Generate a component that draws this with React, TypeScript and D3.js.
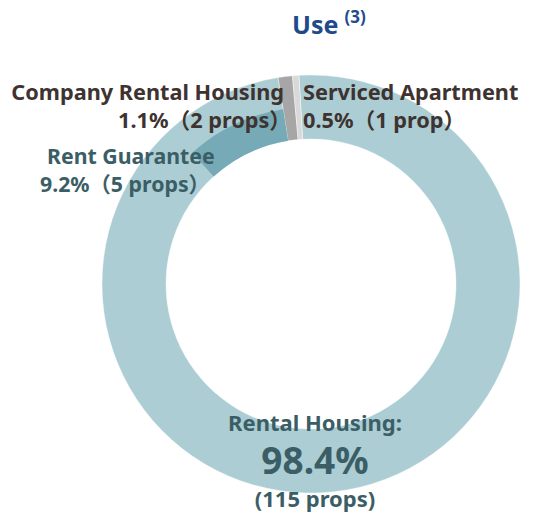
import React from "react";
import * as d3 from "d3";

// segments of the ring, clockwise
const useNames = ["Rental Housing", "Company Rental Housing", "Serviced Apartment"];
const useShares = [98.4, 1.1, 0.5];
const useProps = [115, 2, 1];
const useColors = ["#abcdd3", "#a6a6a6", "#d9d9d9"];

// rent guarantee is a part of rental housing, drawn as an inner band
const guaranteeName = "Rent Guarantee";
const guaranteeShare = 9.2;
const guaranteeProps = 5;

const width = 544;
const height = 514;
const cx = 311;
const cy = 284;
const outerR = 209;
const innerR = 145;
const bandR = 177;
const startDeg = -3.3;

const font = "'Noto Sans', 'Noto Sans CJK JP', sans-serif";
const brown = "#3e3330";
const teal = "#3b5e66";

export default function App() {
  const start = (startDeg * Math.PI) / 180;
  const pie = d3
    .pie<number>()
    .sort(null)
    .startAngle(start)
    .endAngle(start + 2 * Math.PI);
  const slices = pie(useShares);

  const arc = d3.arc<d3.PieArcDatum<number>>().innerRadius(innerR).outerRadius(outerR);

  const rentalEnd = slices[0].endAngle;
  const bandArc = d3.arc()({
    innerRadius: innerR,
    outerRadius: bandR,
    startAngle: rentalEnd - (guaranteeShare / 100) * 2 * Math.PI,
    endAngle: rentalEnd,
  } as any);

  const pct = (v: number) => `${v.toFixed(1)}%`;
  const unit = (n: number) => (n === 1 ? "prop" : "props");

  return (
    <svg width={width} height={height} style={{ display: "block", position: "absolute", left: 0, top: 0 }}>
      <text x={292} y={34} fontFamily={font} fontWeight="bold" fontSize={25} fill="#1f4b8c">
        Use
        <tspan dx={6} dy={-11} fontSize={17}>(3)</tspan>
      </text>

      <g transform={`translate(${cx},${cy})`}>
        {slices.map((s, i) => (
          <path key={useNames[i]} d={arc(s) || ""} fill={useColors[i]} stroke="#ffffff" strokeWidth={0.4} />
        ))}
        <path d={bandArc || ""} fill="#76aab6" />
      </g>

      <g fontFamily={font} fontWeight="bold" fontSize={21.7} fill={brown}>
        <text x={284} y={100} textAnchor="end">{useNames[1]}</text>
        <text x={291} y={128} textAnchor="end">{`${pct(useShares[1])}（${useProps[1]} ${unit(useProps[1])}）`}</text>
        <text x={303} y={100}>{useNames[2]}</text>
        <text x={303} y={128}>{`${pct(useShares[2])}（${useProps[2]} ${unit(useProps[2])}）`}</text>
      </g>

      <g fontFamily={font} fontWeight="bold" fontSize={21.3} fill={teal}>
        <text x={47} y={164}>{guaranteeName}</text>
        <text x={40} y={192}>{`${pct(guaranteeShare)}（${guaranteeProps} ${unit(guaranteeProps)}）`}</text>
      </g>

      <g fontFamily={font} fontWeight="bold" fill={teal} textAnchor="middle">
        <text x={315} y={431} fontSize={22}>{`${useNames[0]}:`}</text>
        <text x={315} y={474} fontSize={37}>{pct(useShares[0])}</text>
        <text x={315} y={507} fontSize={22}>{`(${useProps[0]} ${unit(useProps[0])})`}</text>
      </g>
    </svg>
  );
}
